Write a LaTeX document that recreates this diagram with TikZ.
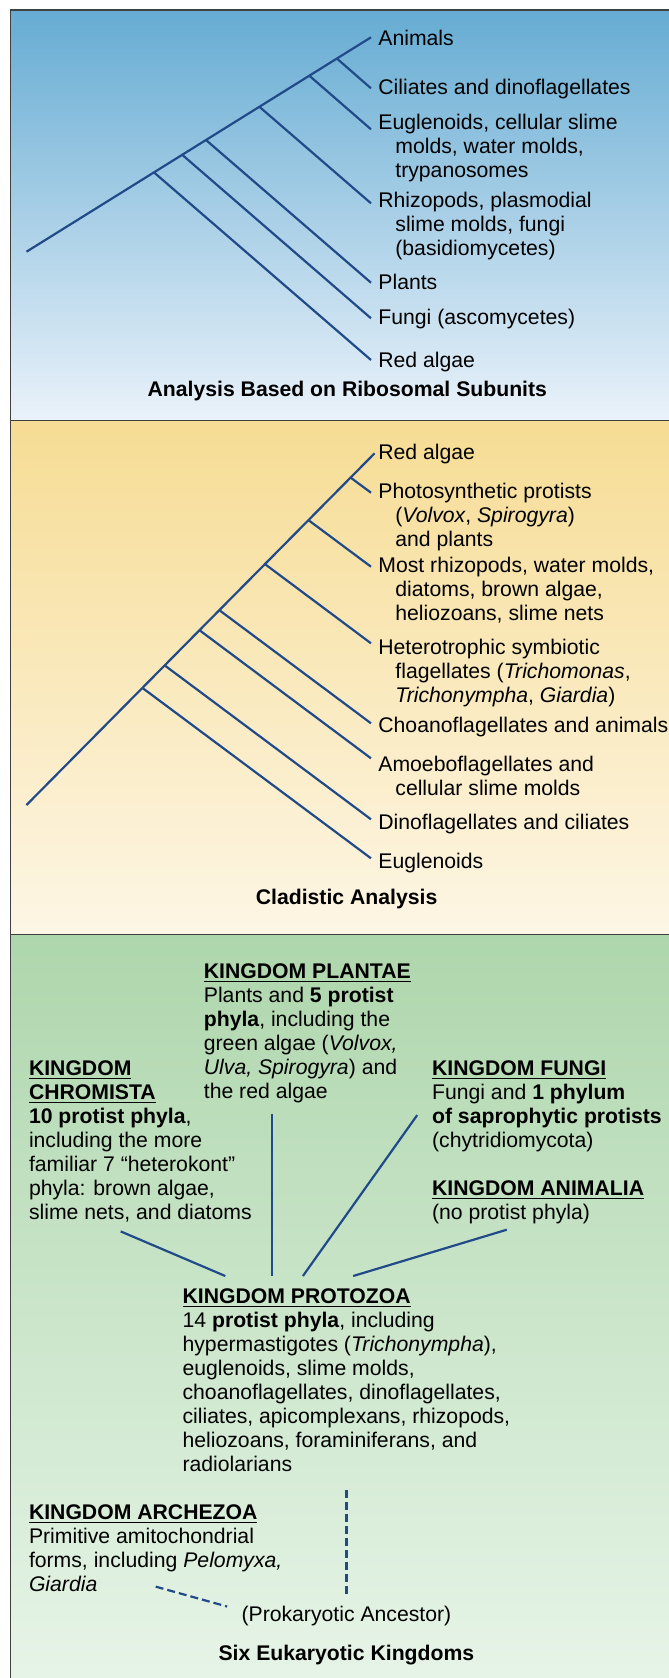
\documentclass[tikz,border=0pt]{standalone}
\usepackage{fontspec}
\setmainfont{Liberation Sans}
\usepackage{tikz}
\usetikzlibrary{calc, positioning}
\newcommand{\ind}{\hspace*{8.5pt}}
\newcommand{\reino}[1]{\underline{\textbf{#1}}}
\definecolor{azultrazo}{RGB}{33,74,137}
\definecolor{azulfondo}{RGB}{102,172,211}
\definecolor{azulclaro}{RGB}{234,242,250}
\definecolor{amarillofondo}{RGB}{246,220,148}
\definecolor{amarilloclaro}{RGB}{253,246,229}
\definecolor{verdefondo}{RGB}{174,214,172}
\definecolor{verdeclaro}{RGB}{232,245,233}
\tikzset{rama/.style={draw=azultrazo, line width=1.1pt},
  trazos/.style={draw=azultrazo, line width=1.1pt, dash pattern=on 4pt off 2pt},
  hoja/.style={anchor=base west, align=left},
  titulo/.style={anchor=base, font=\fontsize{10.6}{12}\selectfont\bfseries},
  panel/.style={draw=black!75, line width=0.75pt}}

\begin{document}
\begin{tikzpicture}[x=0.5pt, y=-0.5pt, every node/.style={font=\fontsize{10.6}{12}\selectfont, inner sep=0pt}]
        \path[use as bounding box] (0,0) rectangle (669,1678);
        \clip (0,0) rectangle (669,1678);
        \shadedraw[panel, top color=azulfondo, bottom color=azulclaro] (10.5,10) rectangle (700,420.5);
        \shadedraw[panel, top color=amarillofondo, bottom color=amarilloclaro] (10.5,420.5) rectangle (700,934.3);
        \shadedraw[panel, top color=verdefondo, bottom color=verdeclaro] (10.5,934.3) rectangle (700,1700);

        \coordinate (r1) at (26.5,251.7);
        \coordinate (t1) at (371,37.3);
        \path (r1) -- (t1) coordinate[pos=0.901] (a1) coordinate[pos=0.821] (a2) coordinate[pos=0.676] (a3)
          coordinate[pos=0.521] (a4) coordinate[pos=0.452] (a5) coordinate[pos=0.370] (a6);
        \coordinate (e1) at (371,88.3);
        \coordinate (e2) at (371,129.3);
        \coordinate (e3) at (371,203.3);
        \coordinate (e4) at (371,282.7);
        \coordinate (e5) at (371,318.3);
        \coordinate (e6) at (371,360);
        \draw[rama] (r1) -- (t1);
        \draw[rama] (a1) -- (e1);
        \draw[rama] (a2) -- (e2);
        \draw[rama] (a3) -- (e3);
        \draw[rama] (a4) -- (e4);
        \draw[rama] (a5) -- (e5);
        \draw[rama] (a6) -- (e6);
        \node[hoja] (animals) at (378,45) {Animals};
        \node[hoja] (ciliates) at (378,94) {Ciliates and dinoflagellates};
        \node[hoja] (euglenoids) at (378,177.5) {Euglenoids, cellular slime\\\ind molds, water molds,\\\ind trypanosomes};
        \node[hoja] (rhizopods) at (378,255) {Rhizopods, plasmodial\\\ind slime molds, fungi\\\ind (basidiomycetes)};
        \node[hoja] (plants) at (378,289) {Plants};
        \node[hoja] (ascomycetes) at (378,324.5) {Fungi (ascomycetes)};
        \node[hoja] (redalgae) at (378,367.5) {Red algae};
        \node[titulo] (ribosomal) at (347.3,396) {Analysis Based on Ribosomal Subunits};

        \coordinate (r2) at (26.5,805);
        \coordinate (t2) at (374.6,453.3);
        \path (r2) -- (t2) coordinate[pos=0.931] (b1) coordinate[pos=0.810] (b2) coordinate[pos=0.685] (b3)
          coordinate[pos=0.554] (b4) coordinate[pos=0.497] (b5) coordinate[pos=0.397] (b6) coordinate[pos=0.333] (b7);
        \coordinate (f1) at (371,492.7);
        \coordinate (f2) at (371,566.7);
        \coordinate (f3) at (371,643.3);
        \coordinate (f4) at (371,723.3);
        \coordinate (f5) at (371,758.3);
        \coordinate (f6) at (371,819.3);
        \coordinate (f7) at (371,858.3);
        \draw[rama] (r2) -- (t2);
        \draw[rama] (b1) -- (f1);
        \draw[rama] (b2) -- (f2);
        \draw[rama] (b3) -- (f3);
        \draw[rama] (b4) -- (f4);
        \draw[rama] (b5) -- (f5);
        \draw[rama] (b6) -- (f6);
        \draw[rama] (b7) -- (f7);
        \node[hoja] (rojas) at (378,459.5) {Red algae};
        \node[hoja] (fotosint) at (378,546.7) {Photosynthetic protists\\\ind(\textit{Volvox}, \textit{Spirogyra})\\\ind and plants};
        \node[hoja] (rizopodos) at (378,620.7) {Most rhizopods, water molds,\\\ind diatoms, brown algae,\\\ind heliozoans, slime nets};
        \node[hoja] (heterotrof) at (378,702.3) {Heterotrophic symbiotic\\\ind flagellates (\textit{Trichomonas},\\\ind \textit{Trichonympha}, \textit{Giardia})};
        \node[hoja] (coanoflag) at (378,732.7) {Choanoflagellates and animals};
        \node[hoja] (ameboflag) at (378,795) {Amoeboflagellates and\\\ind cellular slime molds};
        \node[hoja] (dinoflag) at (378,829.3) {Dinoflagellates and ciliates};
        \node[hoja] (euglenas) at (378,868.7) {Euglenoids};
        \node[titulo] (cladistic) at (346.6,904.3) {Cladistic Analysis};

        \node[hoja] (plantae) at (203.5,1098.7) {\reino{KINGDOM PLANTAE}\\Plants and \textbf{5 protist}\\\textbf{phyla}, including the\\green algae (\textit{Volvox,}\\\textit{Ulva, Spirogyra}) and\\the red algae};
        \node[hoja] (chromista) at (28.6,1219.3) {\reino{KINGDOM}\\\reino{CHROMISTA}\\\textbf{10 protist phyla},\\including the more\\familiar 7 “heterokont”\\phyla: brown algae,\\slime nets, and diatoms};
        \node[hoja] (fungi) at (431.7,1147.3) {\reino{KINGDOM FUNGI}\\Fungi and \textbf{1 phylum}\\\textbf{of saprophytic protists}\\(chytridiomycota)};
        \node[hoja] (animalia) at (431.7,1219.3) {\reino{KINGDOM ANIMALIA}\\(no protist phyla)};
        \node[hoja] (protozoa) at (182.2,1471.7) {\reino{KINGDOM PROTOZOA}\\14 \textbf{protist phyla}, including\\hypermastigotes (\textit{Trichonympha}),\\euglenoids, slime molds,\\choanoflagellates, dinoflagellates,\\ciliates, apicomplexans, rhizopods,\\heliozoans, foraminiferans, and\\radiolarians};
        \node[hoja] (archezoa) at (28.6,1591.3) {\reino{KINGDOM ARCHEZOA}\\Primitive amitochondrial\\forms, including \textit{Pelomyxa,}\\\textit{Giardia}};
        \node[anchor=base] (ancestor) at (346.4,1621) {(Prokaryotic Ancestor)};
        \node[titulo] (sixkingdoms) at (346.4,1660) {Six Eukaryotic Kingdoms};

        \draw[rama] ($(chromista.south west)+(92.1,9)$) -- ($(protozoa.north west)+(43.1,-12.5)$);
        \draw[rama] ($(plantae.south west)+(68.7,10)$) -- ($(protozoa.north west)+(90,-12.5)$);
        \draw[rama] ($(fungi.north west)+(-14.5,55)$) -- ($(protozoa.north west)+(120.7,-12.5)$);
        \draw[rama] ($(animalia.south west)+(75.1,5.6)$) -- ($(protozoa.north west)+(171,-12.5)$);
        \draw[trazos] ([yshift=-9pt]ancestor.north |- protozoa.south) -- ([yshift=5.25pt]ancestor.north);
        \draw[trazos] ($(archezoa.south west)+(127.1,-5.3)$) -- ($(ancestor.west)+(-14,-9)$);
      \end{tikzpicture}
\end{document}
